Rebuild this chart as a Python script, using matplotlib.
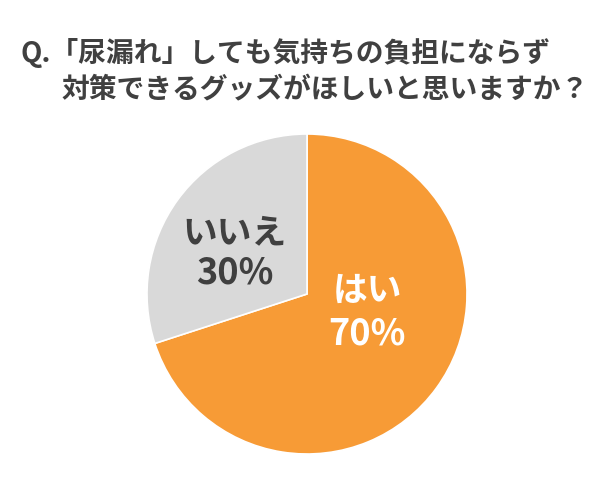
import matplotlib
matplotlib.use("Agg")
import matplotlib.pyplot as plt

plt.rcParams['font.family'] = ['Noto Sans CJK JP', 'DejaVu Sans']

labels = ["はい", "いいえ"]
values = [70, 30]
colors = ["#F79B36", "#D9D9D9"]
label_colors = ["white", "#404040"]

title1 = "Q.「尿漏れ」しても気持ちの負担にならず"
title2 = "対策できるグッズがほしいと思いますか？"

W, H = 597, 482
fig = plt.figure(figsize=(W / 100, H / 100), dpi=100)

# pie centre and radius in pixels
cx, cy, r = 307, 294, 160
ax = fig.add_axes([(cx - r) / W, (H - cy - r) / H, 2 * r / W, 2 * r / H])
ax.pie(values, colors=colors, startangle=90, counterclock=False, radius=1,
       wedgeprops=dict(edgecolor="white", linewidth=1.2))
ax.set_xlim(-1, 1)
ax.set_ylim(-1, 1)
ax.set_aspect("equal")
ax.axis("off")

# label positions (data coords inside the pie)
pos = [(0.375, 0.02, -0.25), (-0.45, 0.38, 0.13)]
for lab, v, c, (x, y1, y2) in zip(labels, values, label_colors, pos):
    ax.text(x, y1, lab, ha="center", va="center", fontsize=25,
            fontweight="bold", color=c)
    ax.text(x, y2, f"{v}%", ha="center", va="center", fontsize=26,
            fontweight="bold", color=c)

fig.text(20 / W, 1 - 53 / H, title1, ha="left", va="center", fontsize=20,
         fontweight="bold", color="#404040")
fig.text(62 / W, 1 - 90 / H, title2, ha="left", va="center", fontsize=20,
         fontweight="bold", color="#404040")

fig.savefig("out.png", dpi=100)
